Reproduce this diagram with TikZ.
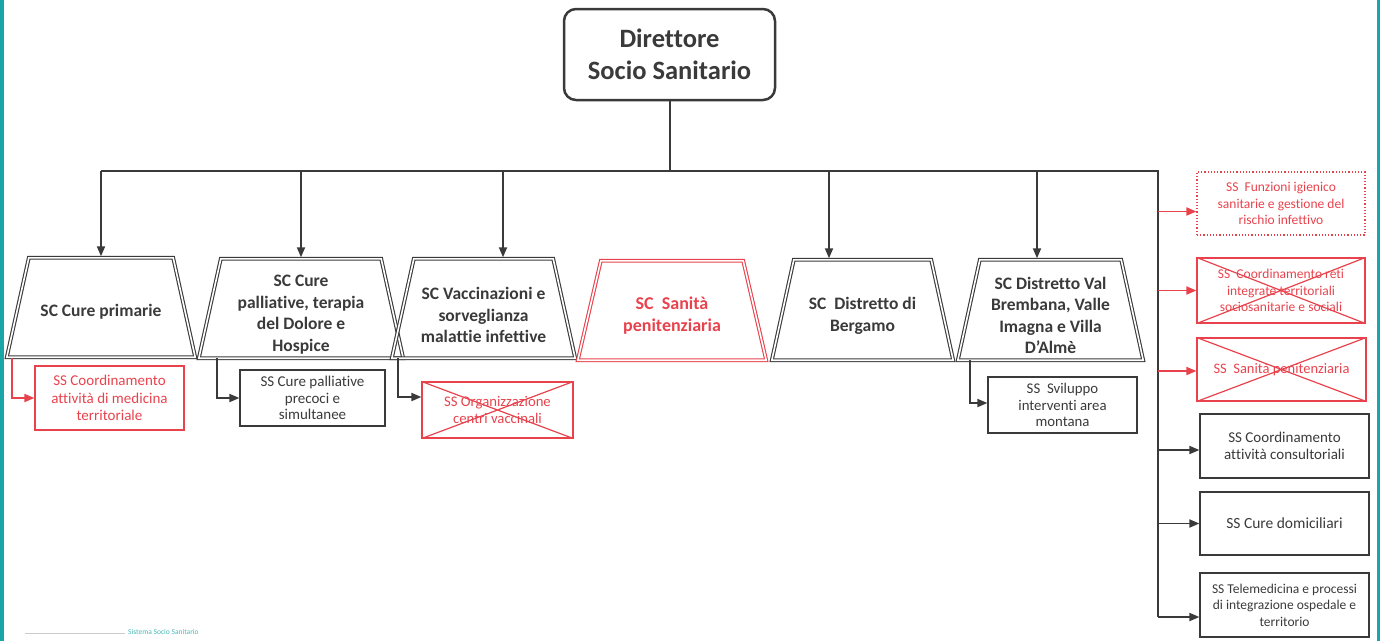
\documentclass[tikz,border=0pt]{standalone}
\usepackage{fontspec}
\setmainfont{Carlito}[Ligatures=NoCommon]
\usetikzlibrary{arrows.meta,calc}
\definecolor{ink}{HTML}{3A3A3A}
\definecolor{rd}{HTML}{E8434D}
\definecolor{teal}{HTML}{1AA6A6}
\tikzset{
  conn/.style={draw=ink, line width=1.8pt, -{Triangle[length=10pt,width=8pt]}},
  rconn/.style={draw=rd, line width=1.8pt, -{Triangle[length=10pt,width=8pt]}},
  scarea/.style={inner sep=0pt, minimum height=99pt},
  trapline/.style={draw=ink, double=white, double distance=1.6pt, line width=1.1pt, line join=miter},
  rtrapline/.style={trapline, draw=rd},
  sctext/.style={text=ink, font=\fontsize{17.5}{21.5}\selectfont\bfseries, align=center, inner sep=0pt},
  rsctext/.style={sctext, text=rd, font=\fontsize{18}{22}\selectfont\bfseries},
  sbox/.style={draw=ink, line width=1.2pt, text=ink, align=center, inner sep=0pt,
    font=\fontsize{15}{17.5}\selectfont},
  rbox/.style={sbox, draw=rd, text=rd},
  cross/.style={draw=rd, line width=1.2pt},
}
\begin{document}
\begin{tikzpicture}[x=1pt,y=-1pt]
\useasboundingbox (0,0) rectangle (1380,641);
\fill[teal] (0,0) rectangle (3.5,641);
\fill[teal] (1376.5,0) rectangle (1380,641);

% director
\node[draw=ink, line width=2.5pt, rounded corners=12pt, minimum width=211pt, minimum height=91pt,
  text=ink, font=\fontsize{26.5}{32}\selectfont\bfseries, align=center] (dir) at (669.5,54.5)
  {Direttore\\Socio Sanitario};

% SC trapezoids: area nodes, outlines, texts
\node[scarea, minimum width=188pt] (t1) at (101,307.5) {};
\node[scarea, minimum width=204pt] (t2) at (301,308.5) {};
\node[scarea, minimum width=183pt] (t3) at (483.5,308.5) {};
\node[scarea, minimum width=188pt] (t4) at (672,310.5) {};
\node[scarea, minimum width=181pt, minimum height=100pt] (t5) at (862.5,310) {};
\node[scarea, minimum width=185pt, minimum height=100pt] (t6) at (1050.5,310) {};
\foreach \t in {t1,t2,t3,t5,t6}{
  \draw[trapline] (\t.south west) -- ([xshift=22pt]\t.north west) -- ([xshift=-22pt]\t.north east) -- (\t.south east) -- cycle;
}
\draw[rtrapline] (t4.south west) -- ([xshift=23pt]t4.north west) -- ([xshift=-23pt]t4.north east) -- (t4.south east) -- cycle;
\node[sctext] (t1x) at ([yshift=-4.5pt]t1.center) {SC Cure primarie};
\node[sctext] (t2x) at ([yshift=-6pt]t2.center) {SC Cure\\palliative, terapia\\del Dolore e\\Hospice};
\node[sctext] (t3x) at ([yshift=-6.5pt]t3.center) {SC Vaccinazioni e\\sorveglianza\\malattie infettive};
\node[rsctext] (t4x) at ([yshift=-5.5pt]t4.center) {SC\ \ Sanità\\penitenziaria};
\node[sctext] (t5x) at ([yshift=-6pt]t5.center) {SC\ \ Distretto di\\Bergamo};
\node[sctext] (t6x) at ([yshift=-5.5pt]t6.center) {SC Distretto Val\\Brembana, Valle\\Imagna e Villa\\D’Almè};

% bus
\coordinate (stem) at (670,171);
\coordinate (b1) at (101,171);
\coordinate (b2) at (301,171);
\coordinate (b3) at (503,171);
\coordinate (b5) at (829,171);
\coordinate (b6) at (1037,171);
\coordinate (bR) at (1158,171);
\coordinate (bRend) at (1158,617);
\draw[ink, line width=1.8pt] (dir.south -| stem) -- (stem);
\draw[ink, line width=1.8pt] (b1) -- (bR) -- (bRend);
\draw[conn] (b1) -- ([yshift=1.5pt]b1 |- t1.north);
\draw[conn] (b2) -- ([yshift=1.5pt]b2 |- t2.north);
\draw[conn] (b3) -- ([yshift=1.5pt]b3 |- t3.north);
\draw[conn] (b5) -- ([yshift=1.5pt]b5 |- t5.north);
\draw[conn] (b6) -- ([yshift=1.5pt]b6 |- t6.north);

% SS boxes under SC
\node[rbox, minimum width=149pt, minimum height=64pt] (s1) at (109.5,398) {SS Coordinamento\\attività di medicina\\territoriale};
\node[sbox, minimum width=145pt, minimum height=56pt, font=\fontsize{15}{16.5}\selectfont] (s2) at (312.5,398) {SS Cure palliative\\precoci e\\simultanee};
\node[rbox, minimum width=151pt, minimum height=56pt, font=\fontsize{14.7}{16.5}\selectfont] (s3) at (497.5,410) {SS Organizzazione\\centri vaccinali};
\draw[cross] (s3.north west) -- (s3.south east) (s3.south west) -- (s3.north east);
\node[sbox, minimum width=149pt, minimum height=56pt, font=\fontsize{14.8}{16.5}\selectfont] (s6) at (1062.5,405) {SS\ \ Sviluppo\\interventi area\\montana};

\coordinate (a1) at (12,358);
\coordinate (a2) at (217,358);
\coordinate (a3) at (398,358);
\coordinate (a6) at (970,360);
\draw[rconn] (a1) |- (s1.west);
\draw[conn] (a2) |- (s2.west);
\draw[conn] (a3) |- ($(s3.west)+(0,-13)$);
\draw[conn] (a6) |- ($(s6.west)+(0,-2)$);

% right column
\node[rbox, draw=rd, dotted, minimum width=168pt, minimum height=63pt, font=\fontsize{13.5}{16.5}\selectfont] (r1) at (1281,203.5) {SS\ \ Funzioni igienico\\sanitarie e gestione del\\rischio infettivo};
\node[rbox, minimum width=168pt, minimum height=65pt, font=\fontsize{13.5}{16.5}\selectfont] (r2) at (1281,290.5) {SS\ \ Coordinamento reti\\integrate territoriali\\sociosanitarie e sociali};
\draw[cross] (r2.north west) -- (r2.south east) (r2.south west) -- (r2.north east);
\node[rbox, minimum width=169pt, minimum height=63pt, font=\fontsize{14.5}{17.5}\selectfont] (r3) at (1281.5,369.5) {SS\ \ Sanità penitenziaria};
\draw[cross] (r3.north west) -- (r3.south east) (r3.south west) -- (r3.north east);
\node[sbox, minimum width=169pt, minimum height=64pt, font=\fontsize{15}{17}\selectfont] (r4) at (1284.5,446) {SS Coordinamento\\attività consultoriali};
\node[sbox, minimum width=169pt, minimum height=63pt, font=\fontsize{15.5}{17}\selectfont] (r5) at (1284.5,523.5) {SS Cure domiciliari};
\node[sbox, minimum width=169pt, minimum height=64pt, font=\fontsize{13.5}{16.5}\selectfont] (r6) at (1284.5,605) {SS Telemedicina e processi\\di integrazione ospedale e\\territorio};

\draw[rconn] ($(r1.west -| bR)+(0,8)$) -- ($(r1.west)+(0,8)$);
\draw[rconn] (r2.west -| bR) -- (r2.west);
\draw[rconn] ($(r3.west -| bR)+(0,1.5)$) -- ($(r3.west)+(0,1.5)$);
\draw[conn] ($(r4.west -| bR)+(0,4)$) -- ($(r4.west)+(0,4)$);
\draw[conn] (r5.west -| bR) -- (r5.west);
\draw[conn] (bRend) -- (bRend -| r6.west);

% footer
\draw[gray!40, line width=0.8pt] (25,633) -- (125,633);
\node[text=teal!80, font=\fontsize{7.5}{8}\selectfont, anchor=west, inner sep=0pt] (foot) at (128,632) {Sistema Socio Sanitario};
\end{tikzpicture}
\end{document}
